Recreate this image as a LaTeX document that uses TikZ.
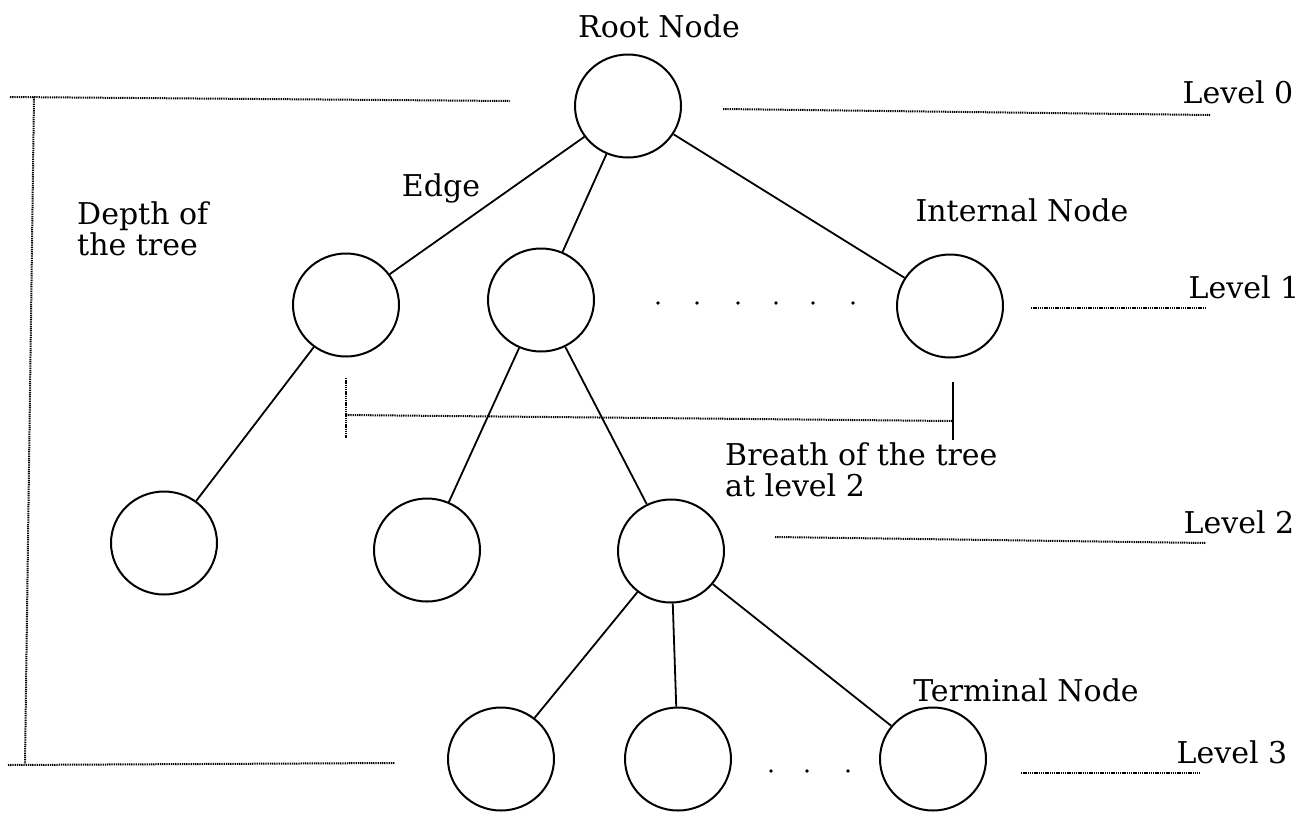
\documentclass[tikz,border=0pt]{standalone}
\usepackage{fontspec}
\setmainfont{DejaVu Serif}
\usetikzlibrary{shapes.geometric}

\tikzset{
  treenode/.style={draw, ellipse, line width=2pt, minimum width=106pt,
                   minimum height=103pt, inner sep=0pt},
  branch/.style={line width=1.8pt},
  guide/.style={line width=2pt, dash pattern=on 1.3pt off 0.9pt},
  marker/.style={line width=1.8pt},
  lbl/.style={font=\fontsize{30}{31}\selectfont, inner sep=0pt},
  speck/.style={fill=black, circle, inner sep=0pt, minimum size=3.6pt}
}

\begin{document}
\begin{tikzpicture}[x=1pt,y=-1pt]
\useasboundingbox (0,0) rectangle (1307,815);

% tree nodes, level by level
\node[treenode] (r)   at (628,106) {};
\node[treenode] (a1)  at (346,305) {};
\node[treenode] (a2)  at (541,300) {};
\node[treenode] (a3)  at (950,306) {};
\node[treenode] (b1)  at (164,543) {};
\node[treenode] (b2)  at (427,550) {};
\node[treenode] (b3)  at (671,551) {};
\node[treenode] (c1)  at (501,759) {};
\node[treenode] (c2)  at (678,759) {};
\node[treenode] (c3)  at (933,759) {};

% edges
\draw[branch] (r) -- (a1);
\draw[branch] (r) -- (a2);
\draw[branch] (r) -- (a3);
\draw[branch] (a1) -- (b1);
\draw[branch] (a2) -- (b2);
\draw[branch] (a2) -- (b3);
\draw[branch] (b3) -- (c1);
\draw[branch] (b3) -- (c2);
\draw[branch] (b3) -- (c3);

% elided siblings
\foreach \x in {658,697,738,776,813,853}
  \node[speck] at (\x,303) {};
\foreach \x in {771,807,848}
  \node[speck] at (\x,771) {};

% depth bracket
\coordinate (dtl) at (10,97);
\coordinate (dtr) at (510,101);
\coordinate (dvt) at (34,97);
\coordinate (dvb) at (25,764);
\coordinate (dbl) at (8,765);
\coordinate (dbr) at (395,763);
\draw[guide] (dtl) -- (dtr);
\draw[guide] (dvt) -- (dvb);
\draw[guide] (dbl) -- (dbr);

% level guides
\coordinate (g0a) at (723,109);  \coordinate (g0b) at (1210,115);
\coordinate (g1a) at (1031,308); \coordinate (g1b) at (1206,308);
\coordinate (g2a) at (775,537);  \coordinate (g2b) at (1206,543);
\coordinate (g3a) at (1021,773); \coordinate (g3b) at (1200,773);
\draw[guide] (g0a) -- (g0b);
\draw[guide] (g1a) -- (g1b);
\draw[guide] (g2a) -- (g2b);
\draw[guide] (g3a) -- (g3b);

% breadth bracket
\coordinate (bl)  at (346,415);
\coordinate (br)  at (953,421);
\coordinate (blt) at (346,378);
\coordinate (blb) at (346,438);
\coordinate (brt) at (953,382);
\coordinate (brb) at (953,440);
\draw[guide] (bl) -- (br);
\draw[guide] (blt) -- (blb);
\draw[marker] (brt) -- (brb);

% labels
\node[lbl] (tRoot) at (659,26) {Root Node};
\node[lbl] (tL0) at (1238,92) {Level 0};
\node[lbl] (tL1) at (1244,287) {Level 1};
\node[lbl] (tL2) at (1239,522) {Level 2};
\node[lbl] (tL3) at (1232,752) {Level 3};
\node[lbl] (tEdge) at (441,188) {Edge};
\node[lbl] (tInt) at (1022,210) {Internal Node};
\node[lbl] (tTerm) at (1026,690) {Terminal Node};
\node[lbl, anchor=north west, align=left] (tDepth) at (77,201) {Depth of\\the tree};
\node[lbl, anchor=north west, align=left] (tBreadth) at (725,442) {Breath of the tree\\at level 2};
\end{tikzpicture}
\end{document}
